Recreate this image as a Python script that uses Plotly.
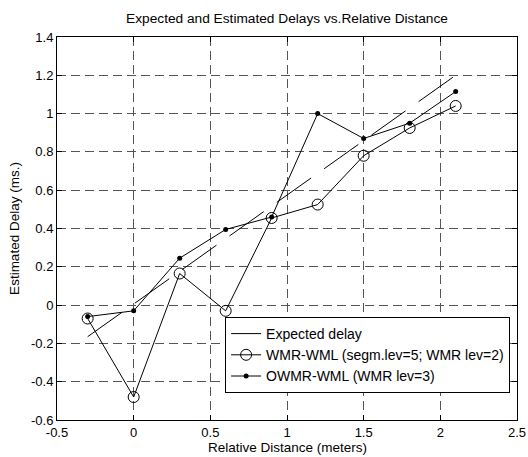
import plotly.graph_objects as go

# ---- data ----
x_pts = [-0.3, 0.0, 0.3, 0.6, 0.9, 1.2, 1.5, 1.8, 2.1]
wmr_wml = [-0.07, -0.48, 0.165, -0.03, 0.455, 0.525, 0.78, 0.925, 1.04]
owmr_wml = [-0.06, -0.03, 0.245, 0.395, 0.46, 1.0, 0.87, 0.95, 1.115]
expected_x = [-0.3, 2.1]
expected_y = [-0.165, 1.2]

x_tickvals = [-0.5, 0, 0.5, 1, 1.5, 2, 2.5]
x_ticktext = ["-0.5", "0", "0.5", "1", "1.5", "2", "2.5"]
y_tickvals = [-0.6, -0.4, -0.2, 0, 0.2, 0.4, 0.6, 0.8, 1, 1.2, 1.4]
y_ticktext = ["-0.6", "-0.4", "-0.2", "0", "0.2", "0.4", "0.6", "0.8", "1", "1.2", "1.4"]

FONT = "Liberation Sans, Arial, sans-serif"
FS = 13.5

fig = go.Figure()
fig.add_trace(go.Scatter(
    x=expected_x, y=expected_y, mode="lines", name="Expected delay",
    line=dict(color="black", width=1, dash="42px,16px"),
))
fig.add_trace(go.Scatter(
    x=x_pts, y=wmr_wml, mode="lines+markers",
    name="WMR-WML (segm.lev=5; WMR lev=2)",
    line=dict(color="black", width=1),
    marker=dict(symbol="circle-open", size=11, color="black", line=dict(width=1, color="black")),
))
fig.add_trace(go.Scatter(
    x=x_pts, y=owmr_wml, mode="lines+markers",
    name="OWMR-WML (WMR lev=3)",
    line=dict(color="black", width=1),
    marker=dict(symbol="circle", size=5, color="black"),
))

axis_common = dict(
    showline=True, linecolor="black", linewidth=1, mirror="ticks",
    ticks="inside", ticklen=5, tickcolor="black",
    showgrid=True, gridcolor="#555555", griddash="9px,5px", gridwidth=1,
    zeroline=False, automargin=False,
    tickfont=dict(family=FONT, size=13, color="black"),
)

fig.update_layout(
    width=528, height=457,
    margin=dict(l=57, r=11, t=37, b=37),
    paper_bgcolor="white", plot_bgcolor="white",
    font=dict(family=FONT, size=FS, color="black"),
    title=dict(text="Expected and Estimated Delays vs.Relative Distance",
               x=(57 + 517) / 2 / 528, xanchor="center", y=1 - 18 / 457, yanchor="middle",
               font=dict(family=FONT, size=13.7, color="black")),
    xaxis=dict(range=[-0.5, 2.5], tickvals=x_tickvals, ticktext=x_ticktext,
               **axis_common),
    yaxis=dict(range=[-0.6, 1.4], tickvals=y_tickvals, ticktext=y_ticktext,
               title=dict(text="Estimated Delay (ms.)", standoff=8,
                          font=dict(family=FONT, size=13.5)),
               **axis_common),
    legend=dict(x=0.985, y=(420 - 393) / 383, xanchor="right", yanchor="bottom",
                bgcolor="white", bordercolor="black", borderwidth=1,
                font=dict(family=FONT, size=14, color="black"),
                tracegroupgap=0, itemwidth=30),
    showlegend=True,
    annotations=[dict(text="Relative Distance (meters)", xref="paper", yref="paper",
                      x=0.5, y=(420 - 448) / 383, xanchor="center", yanchor="middle",
                      showarrow=False, font=dict(family=FONT, size=13.5, color="black"))],
)

fig.write_html("out.html",
               config={"displayModeBar": False},
               post_script="document.body.style.margin='0';document.body.style.padding='0';document.body.style.overflow='hidden';")
